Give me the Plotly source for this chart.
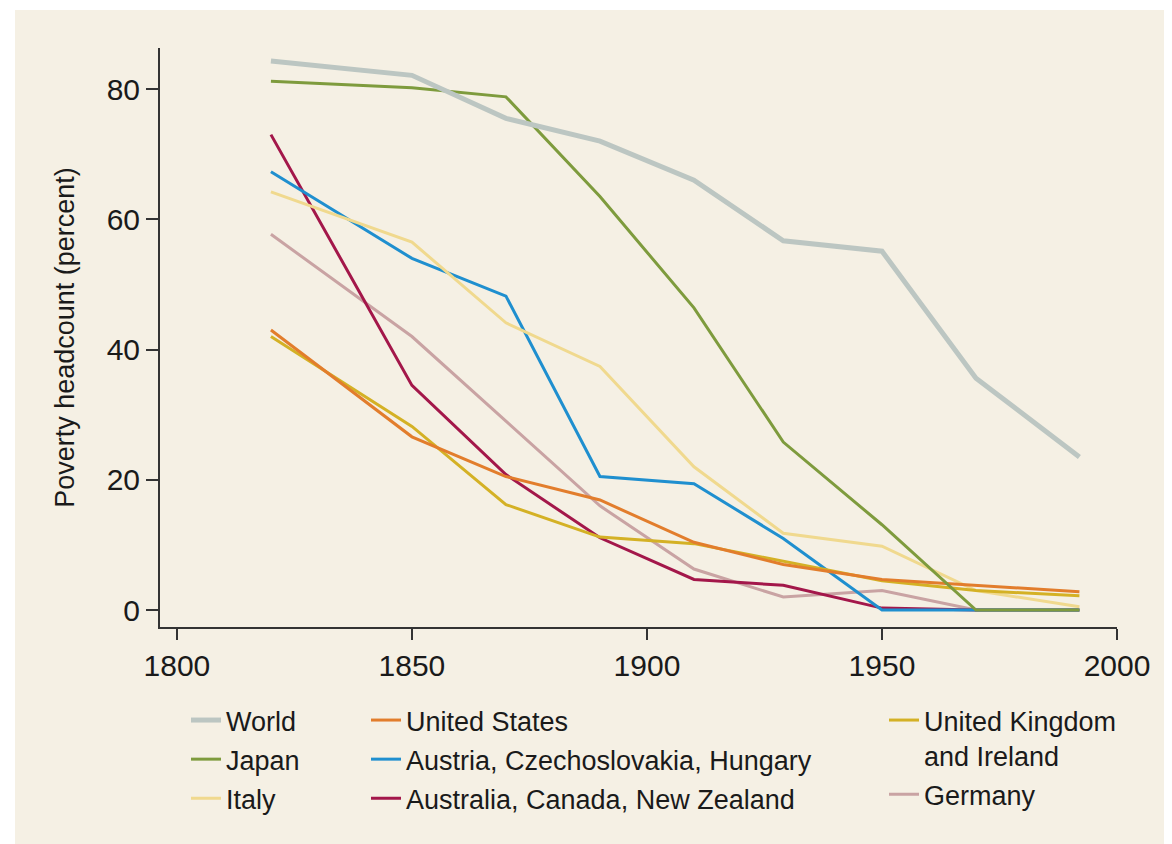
import plotly.graph_objects as go

years = [1820, 1850, 1870, 1890, 1910, 1929, 1950, 1970, 1992]

world = [84.3, 82.1, 75.5, 72.0, 66.0, 56.7, 55.1, 35.6, 23.5]
japan = [81.2, 80.2, 78.8, 63.5, 46.4, 25.8, 13.1, 0.0, 0.0]
italy = [64.2, 56.5, 44.1, 37.4, 22.0, 11.8, 9.8, 3.0, 0.5]
us = [43.0, 26.6, 20.5, 16.9, 10.4, 7.0, 4.7, 3.8, 2.8]
uk = [42.0, 28.2, 16.2, 11.2, 10.2, 7.5, 4.5, 3.0, 2.2]
austria = [67.3, 54.0, 48.2, 20.5, 19.4, 11.0, 0.0, 0.0, 0.0]
australia = [73.0, 34.5, 20.8, 11.1, 4.7, 3.8, 0.3, 0.0, 0.0]
germany = [57.7, 42.0, 29.0, 16.0, 6.3, 2.0, 3.0, 0.0, 0.0]

series = [
    # name, values, color, width, legend
    ("Germany", germany, "#c9a3a3", 3, "legend3"),
    ("Australia, Canada, New Zealand", australia, "#a3174a", 3, "legend2"),
    ("Austria, Czechoslovakia, Hungary", austria, "#1f8fcf", 3, "legend2"),
    ("Italy", italy, "#f0d98e", 3, "legend"),
    ("United Kingdom<br>and Ireland", uk, "#d4b125", 3, "legend3"),
    ("United States", us, "#e27d2c", 3, "legend2"),
    ("Japan", japan, "#7e9b3d", 3, "legend"),
    ("World", world, "#bcc6c2", 5, "legend"),
]
legend_rank = {
    "World": 1, "Japan": 2, "Italy": 3,
    "United States": 1, "Austria, Czechoslovakia, Hungary": 2,
    "Australia, Canada, New Zealand": 3,
    "United Kingdom<br>and Ireland": 1, "Germany": 2,
}

fig = go.Figure()
for i, (name, vals, color, width, leg) in enumerate(series):
    fig.add_trace(go.Scatter(
        x=years, y=vals, mode="lines", name=name,
        line=dict(color=color, width=width),
        legend=leg, legendrank=legend_rank[name], legendgroup=f"g{i}",
    ))

cream = "#f5f0e4"
OFF = 8  # page body margin
W, H = 1172 - OFF, 844 - OFF
l, r, t, b = 160 - OFF, 55, 48 - OFF, 217
pw, ph = W - l - r, H - t - b


def px2paper_x(px):
    # px given in page coordinates
    return (px - OFF - l) / pw


def px2paper_y(py):
    return (H - b - (py - OFF)) / ph


font = "Liberation Sans, Arial, sans-serif"
fig.add_shape(type="rect", xref="paper", yref="paper",
              x0=px2paper_x(15), x1=px2paper_x(1180),
              y0=px2paper_y(850), y1=px2paper_y(10),
              fillcolor=cream, line=dict(width=0), layer="below")

legend_common = dict(
    orientation="v", bgcolor="rgba(0,0,0,0)",
    font=dict(family=font, size=27, color="#1a1a1a"),
    tracegroupgap=1, itemwidth=30, valign="top",
    xanchor="left", yanchor="top", traceorder="grouped",
)

fig.update_layout(
    width=W, height=H,
    margin=dict(l=l, r=r, t=t, b=b),
    paper_bgcolor="white",
    plot_bgcolor=cream,
    font=dict(family=font, size=26, color="#1a1a1a"),
    xaxis=dict(
        range=[1796.4, 2000], tickvals=[1800, 1850, 1900, 1950, 2000],
        showline=True, linecolor="#333333", linewidth=2,
        ticks="outside", ticklen=11, tickwidth=2, tickcolor="#333333",
        showgrid=False, zeroline=False,
        tickfont=dict(size=30),
    ),
    yaxis=dict(
        range=[-2.6, 86.3], tickvals=[0, 20, 40, 60, 80],
        showline=True, linecolor="#333333", linewidth=2,
        ticks="outside", ticklen=12, tickwidth=2, tickcolor="#333333",
        showgrid=False, zeroline=False,
        tickfont=dict(size=30),
        title=dict(text="Poverty headcount (percent)", font=dict(size=27), standoff=24),
    ),
    legend=dict(x=px2paper_x(186), y=px2paper_y(696), **legend_common),
    legend2=dict(x=px2paper_x(366), y=px2paper_y(696), **legend_common),
    legend3=dict(x=px2paper_x(884), y=px2paper_y(696), **legend_common),
    showlegend=True,
)

fig.write_html("out.html")
